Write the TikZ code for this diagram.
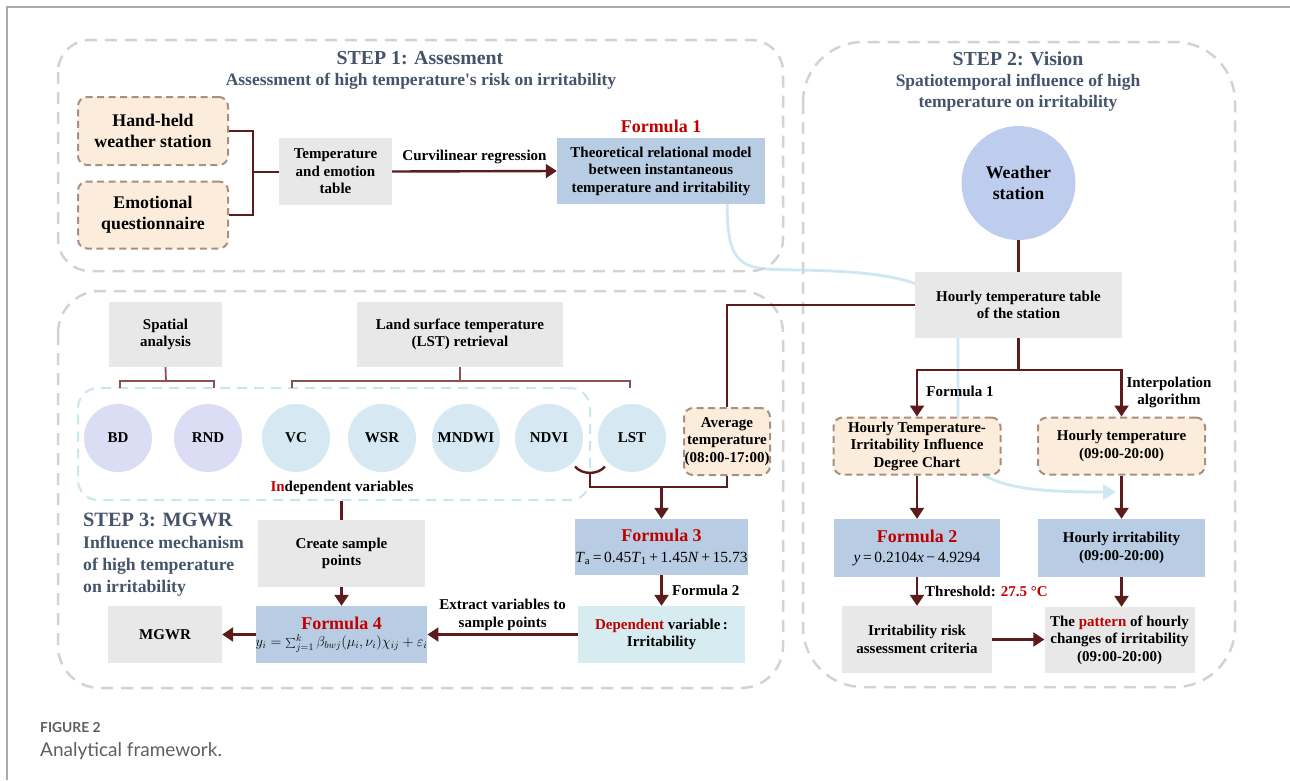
\documentclass[tikz,border=0pt]{standalone}
\usepackage{fontspec}
\setmainfont{Liberation Serif}
\newfontfamily\capfont{Lato}
\usetikzlibrary{arrows.meta}
\pgfdeclarelayer{bg}
\pgfsetlayers{bg,main}
\definecolor{arrowred}{RGB}{92,28,28}
\definecolor{brk}{RGB}{140,82,82}
\definecolor{peach}{RGB}{251,236,220}
\definecolor{peachline}{RGB}{168,143,128}
\definecolor{boxgray}{RGB}{232,232,232}
\definecolor{boxblue}{RGB}{184,205,227}
\definecolor{boxcyan}{RGB}{214,236,241}
\definecolor{wscol}{RGB}{190,204,238}
\definecolor{lav}{RGB}{218,221,243}
\definecolor{lblue}{RGB}{214,232,242}
\definecolor{framegray}{RGB}{211,211,211}
\definecolor{grpline}{RGB}{200,230,238}
\definecolor{curve}{RGB}{205,231,243}
\definecolor{titlecol}{RGB}{68,84,106}
\definecolor{fred}{RGB}{192,0,0}
\definecolor{outer}{RGB}{170,170,170}
\definecolor{capcol}{RGB}{95,95,95}
\newcommand\fbg{\bfseries\fontsize{17.8}{21}\selectfont}
\newcommand\fnm{\bfseries\fontsize{15}{17.5}\selectfont}
\newcommand\fredf{\bfseries\fontsize{18}{20}\selectfont}
\newcommand\fml{\mdseries\fontsize{15.5}{18}\selectfont}
\begin{document}
\begin{tikzpicture}[x=1pt,y=-1pt,
  txt/.style={font=\fnm, align=center, inner sep=0pt, text=black},
  graybox/.style={txt, fill=boxgray},
  bluebox/.style={txt, fill=boxblue},
  cyanbox/.style={txt, fill=boxcyan},
  peachbox/.style={txt, fill=peach, draw=peachline, line width=2pt, dash pattern=on 7pt off 4.5pt, rounded corners=9pt},
  varc/.style={txt, circle, minimum size=68pt},
  frame/.style={draw=framegray, line width=2.5pt, dash pattern=on 12pt off 8pt},
  conn/.style={draw=arrowred, line width=2.4pt},
  brkline/.style={draw=brk, line width=1.8pt},
  arr/.style={conn, -{Triangle[width=14pt,length=11pt]}},
  lab/.style={txt},
  redlab/.style={txt, font=\fredf, text=fred},
  ttl/.style={font=\bfseries\fontsize{19.8}{22}\selectfont, text=titlecol, align=center, inner sep=0pt},
  sttl/.style={font=\bfseries\fontsize{17.5}{21}\selectfont, text=titlecol, align=center, inner sep=0pt}
]
\useasboundingbox (0,0) rectangle (1290,780);
% outer page frame
\draw[outer, line width=1.3pt] (7,780) -- (7,7) -- (1290,7);
% step frames
\draw[frame, rounded corners=32pt] (58,40) rectangle (783,271);
\draw[frame, rounded corners=60pt] (803,42) rectangle (1235,687);
\draw[frame, rounded corners=42pt] (58,291) rectangle (783,688);

% ---------- STEP 1 ----------
\node[ttl] (s1t) at (420,58) {STEP 1: Assesment};
\node[sttl] (s1s) at (421,81) {Assessment of high temperature\textquotesingle s risk on irritability};
\node[peachbox, minimum width=150pt, minimum height=68pt, font=\fbg] (hand) at (153,131) {Hand-held\\weather station};
\node[peachbox, minimum width=150pt, minimum height=67pt, font=\fbg] (emo) at (153,215) {Emotional\\questionnaire};
\node[graybox, minimum width=113pt, minimum height=67pt] (tab) at (335.5,171.5) {Temperature\\and emotion\\table};
\node[bluebox, minimum width=208pt, minimum height=66pt] (theo) at (661,171) {Theoretical relational model\\between instantaneous\\temperature and irritability};
\node[redlab] (f1l) at (661,126) {Formula 1};
\coordinate (b1) at (253,172);
\draw[conn] (hand.east) -| (b1) |- (emo.east);
\draw[conn] (b1) -- (tab.west |- b1);
\draw[arr] (tab.east) -- node[lab, above=6pt] (cr) {Curvilinear regression} (theo.west);

% ---------- STEP 2 ----------
\node[ttl] (s2t) at (1018,59) {STEP 2: Vision};
\node[sttl] (s2s) at (1018,92.5) {Spatiotemporal influence of high\\temperature on irritability};
\node[txt, circle, fill=wscol, minimum size=114pt, font=\fbg] (ws) at (1018.5,183) {Weather\\station};
\node[graybox, minimum width=207pt, minimum height=66pt] (htt) at (1018.5,305) {Hourly temperature table\\of the station};
\draw[conn] (ws) -- (htt);
\node[peachbox, minimum width=167pt, minimum height=57pt] (chart) at (917,446) {Hourly Temperature-\\Irritability Influence\\Degree Chart};
\node[peachbox, minimum width=167pt, minimum height=57pt] (htemp) at (1121.5,446) {Hourly temperature\\(09:00-20:00)};
\coordinate (sp) at (1018.5,370);
\draw[conn] (htt.south) -- (sp);
\draw[arr] (sp) -| (chart.north);
\draw[arr] (sp) -| (htemp.north);
\node[lab] (f1a) at (960,391) {Formula 1};
\node[lab] (ia) at (1169,392.5) {Interpolation\\algorithm};
\node[bluebox, minimum width=166pt, minimum height=58pt] (f2) at (917,548) {{\fredf\color{fred}Formula 2}\\[3pt]{\fml\textit{y}\,=\,0.2104\textit{x}\,−\,4.9294}};
\node[bluebox, minimum width=167pt, minimum height=58pt] (hirr) at (1121.5,548) {Hourly irritability\\(09:00-20:00)};
\draw[arr] (chart.south) -- (chart.south |- f2.north);
\draw[arr] (htemp.south) -- (htemp.south |- hirr.north);
\node[graybox, minimum width=150pt, minimum height=67pt] (risk) at (917,639.5) {Irritability risk\\assessment criteria};
\node[graybox, minimum width=150pt, minimum height=66pt] (patt) at (1119.5,640) {The \textcolor{fred}{pattern} of hourly\\changes of irritability\\(09:00-20:00)};
\draw[arr] (f2.south) -- (f2.south |- risk.north);
\node[lab, anchor=west] (thr) at (925,591) {Threshold: \textcolor{fred}{27.5 °C}};
\draw[arr] (risk.east) -- (patt.west |- risk.east);
\draw[arr] (hirr.south) -- (hirr.south |- patt.north);

% ---------- STEP 3 ----------
\node[graybox, minimum width=113pt, minimum height=65pt] (spa) at (165.5,334.5) {Spatial\\analysis};
\node[graybox, minimum width=206pt, minimum height=65pt] (lstr) at (460,334.5) {Land surface temperature\\(LST) retrieval};
\node[draw=grpline, line width=2pt, dash pattern=on 10pt off 7pt, rounded corners=20pt, minimum width=512pt, minimum height=112pt, inner sep=0pt] (grp) at (334,444) {};
\node[varc, fill=lav] (bd) at (118,438) {BD};
\node[varc, fill=lav] (rnd) at (208,438) {RND};
\node[varc, fill=lblue] (vc) at (296,438) {VC};
\node[varc, fill=lblue] (wsr) at (382,438) {WSR};
\node[varc, fill=lblue] (mnd) at (466,438) {MNDWI};
\node[varc, fill=lblue] (ndvi) at (549,438) {NDVI};
\node[varc, fill=lblue] (lst) at (632,438) {LST};
\node[lab] (iv) at (342,488) {\textcolor{fred}{In}dependent variables};
% brackets
\coordinate (bk1) at (166,381);
\coordinate (bk2) at (460,381);
\draw[brkline] (spa.south) -- (bk1);
\draw[brkline] (120,388) -- (120,381) -- (214,381) -- (214,388);
\draw[brkline] (lstr.south) -- (bk2);
\draw[brkline] (292,388) -- (292,381) -- (630,381) -- (630,388);
% average temperature
\node[peachbox, minimum width=86pt, minimum height=67pt] (avg) at (727,441.5) {Average\\temperature\\(08:00-17:00)};
\draw[conn] (avg.north) |- (htt.west);
\coordinate (ac) at (590,472.5);
\coordinate (jn) at (590,487);
\draw[conn] (575,466.5) .. controls (582,475) and (598,475) .. (605,466.5);
\draw[conn] (ac) -- (jn) -| (avg.south);
\node[bluebox, minimum width=167pt, minimum height=56pt] (f3) at (661.5,547) {{\fredf\color{fred}Formula 3}\\[3pt]{\fml\textit{T}\textsubscript{a}\,=\,0.45\textit{T}\textsubscript{1}\,+\,1.45\textit{N}\,+\,15.73}};
\draw[arr] (f3.north |- jn) -- (f3.north);
\node[cyanbox, minimum width=167pt, minimum height=57pt] (dep) at (661.5,634.5) {\textcolor{fred}{Dependent} variable\,:\\Irritability};
\draw[arr] (f3.south) -- (dep.north);
\node[lab, anchor=west] (f2b) at (672,590) {Formula 2};
\node[graybox, minimum width=167pt, minimum height=67pt] (cs) at (341.5,553.5) {Create sample\\points};
\node[bluebox, minimum width=167pt, minimum height=57pt] (f4) at (341.5,634.5) {{\fredf\color{fred}Formula 4}\\[0pt]{\mdseries\fontsize{14.5}{17}\selectfont$y_i=\sum\nolimits_{j=1}^{k}\beta_{bwj}\bigl(\mu_i,\nu_i\bigr)\chi_{ij}+\varepsilon_i$}};
\node[graybox, minimum width=114pt, minimum height=57pt] (mgwr) at (165,634.5) {MGWR};
\draw[conn] (cs.north |- grp.south) -- (cs.north);
\draw[arr] (cs.south) -- (f4.north);
\draw[arr] (dep.west) -- node[lab, above=3pt] (ev) {Extract variables to\\sample points} (f4.east);
\draw[arr] (f4.west) -- (mgwr.east);
\node[ttl, font=\bfseries\fontsize{20.3}{22}\selectfont, anchor=west] (s3t) at (83,520) {STEP 3: MGWR};
\node[anchor=north west, font=\bfseries\fontsize{17.7}{22}\selectfont, text=titlecol, align=left, inner sep=0pt] (s3s) at (83,536) {Influence mechanism\\of high temperature\\on irritability};

% light blue curve (background)
\begin{pgfonlayer}{bg}
\coordinate (ce) at (1116,492);
\draw[curve, line width=2.8pt, -{Triangle[width=15pt,length=13pt]}] ([xshift=-38pt]theo.south east) .. controls (727,272) and (745,269) .. (800,270) .. controls (900,272) and (958,282) .. (958,340) -- (958,425) .. controls (960,485) and (1010,492) .. (ce);
\end{pgfonlayer}

% caption
\node[anchor=west, font=\capfont\bfseries\fontsize{13.8}{15}\selectfont, text=capcol, inner sep=0pt] (fig) at (40,727) {FIGURE 2};
\node[anchor=west, font=\capfont\fontsize{19}{22}\selectfont, text=capcol, inner sep=0pt] (cap) at (40,751) {Analytical framework.};
\end{tikzpicture}
\end{document}
